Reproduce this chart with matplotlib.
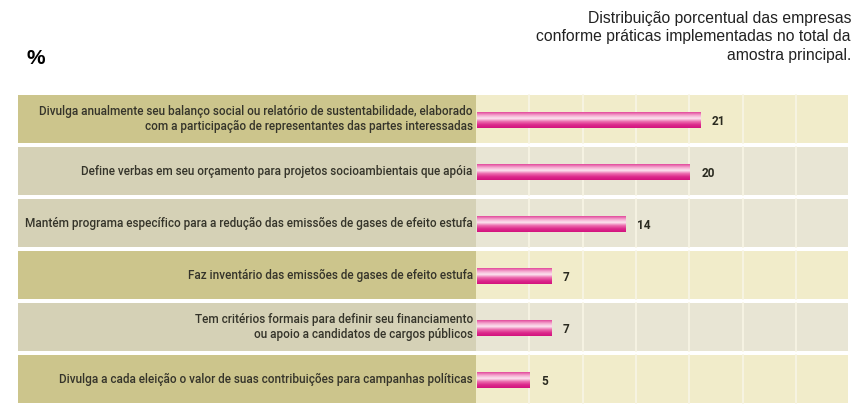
import matplotlib.pyplot as plt
import numpy as np
from matplotlib.colors import LinearSegmentedColormap

# dados
praticas = [
    "Divulga anualmente seu balanço social ou relatório de sustentabilidade, elaborado\ncom a participação de representantes das partes interessadas",
    "Define verbas em seu orçamento para projetos socioambientais que apóia",
    "Mantém programa específico para a redução das emissões de gases de efeito estufa",
    "Faz inventário das emissões de gases de efeito estufa",
    "Tem critérios formais para definir seu financiamento\nou apoio a candidatos de cargos públicos",
    "Divulga a cada eleição o valor de suas contribuições para campanhas políticas",
]
percentuais = [21, 20, 14, 7, 7, 5]
tons = ["o", "g", "g", "o", "g", "o"]  # fundo de cada linha

fig = plt.figure(figsize=(8.56, 4.05), dpi=100)
W, H = 856, 405
ax = fig.add_axes([18 / W, 0, (848 - 18) / W, (405 - 93) / H])

px = 10.67  # pixels por ponto percentual
xmin = (18 - 476) / px
xmax = (848 - 476) / px
ax.set_xlim(xmin, xmax)
ax.set_ylim(len(praticas) - 0.5, -0.5)
ax.axis("off")

cor_rot = {"o": "#ccc58c", "g": "#d5d1b6"}
cor_fundo = {"o": "#f1ecca", "g": "#e8e5d4"}
gap = 0.03
cmap = LinearSegmentedColormap.from_list(
    "rosa", ["#e24a9c", "#f4a8cf", "#fce4f0", "#ec6aae", "#dc2a8c", "#d3127e"])
grad = np.linspace(0, 1, 64).reshape(-1, 1)
altura = 0.3

for i, (txt, v, t) in enumerate(zip(praticas, percentuais, tons)):
    y0, y1 = i - 0.5 + gap, i + 0.5 - gap
    ax.fill_between([xmin, 0], y0, y1, color=cor_rot[t], lw=0)
    ax.fill_between([0, xmax], y0, y1, color=cor_fundo[t], lw=0)
    for g in range(5, 35, 5):
        ax.plot([g, g], [y0, y1], color="#f8f5e6", lw=1.2)
    ax.imshow(grad, cmap=cmap, extent=(0.05, v, i + altura / 2 + 0.02, i - altura / 2 + 0.02),
              aspect="auto", zorder=3)
    ax.text(v + 1.1, i + 0.04, str(v), ha="left", va="center", fontsize=8.5,
            fontweight="bold", color="#2a2a20", family="Roboto")
    ax.text(-0.3, i, txt, ha="right", va="center", fontsize=8.5, fontweight="medium",
            color="#35342a", family="Roboto", linespacing=1.15)

fig.text(27 / W, 1 - 58 / H, "%", fontsize=15, fontweight="bold", va="center",
         family="Liberation Sans")
fig.text(851 / W, 1 - 37 / H,
         "Distribuição porcentual das empresas\nconforme práticas implementadas no total da\namostra principal.",
         ha="right", va="center", fontsize=11.3, family="Liberation Sans",
         linespacing=1.3, color="#222222")

fig.savefig("out.png", dpi=100)
